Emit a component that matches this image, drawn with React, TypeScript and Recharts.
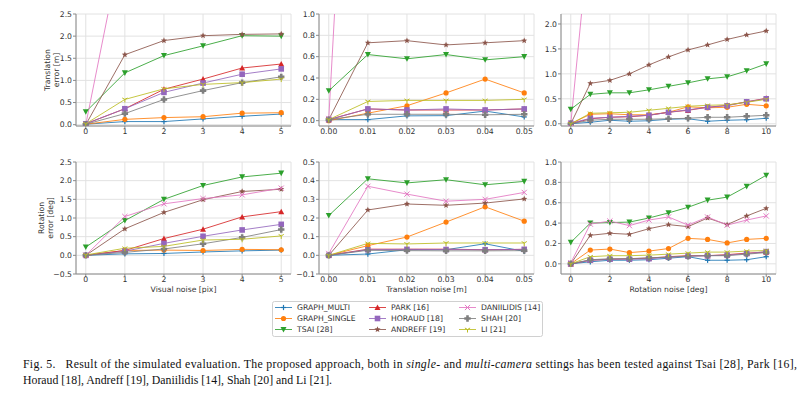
import React from 'react';
import { LineChart, Line, XAxis, YAxis, CartesianGrid } from 'recharts';

// series order used by every value table below
const seriesNames = ['GRAPH_MULTI', 'GRAPH_SINGLE', 'TSAI [28]', 'PARK [16]', 'HORAUD [18]', 'ANDREFF [19]', 'DANIILIDIS [14]', 'SHAH [20]', 'LI [21]'];
const seriesColors = ['#1f77b4', '#ff7f0e', '#2ca02c', '#d62728', '#9467bd', '#8c564b', '#e377c2', '#7f7f7f', '#bcbd22'];
const seriesMarkers = ['plus', 'circle', 'triDown', 'triUp', 'square', 'star', 'x', 'fplus', 'tri'];

const visualNoise = [0, 1, 2, 3, 4, 5];
const translationNoise = [0, 0.01, 0.02, 0.03, 0.04, 0.05];
const rotationNoise = [0, 1, 2, 3, 4, 5, 6, 7, 8, 9, 10];

const transErrVisual = [
  [0.01, 0.07, 0.07, 0.13, 0.19, 0.24],
  [0.01, 0.12, 0.16, 0.18, 0.26, 0.27],
  [0.29, 1.17, 1.56, 1.78, 2.01, 2.0],
  [0.02, 0.36, 0.8, 1.03, 1.28, 1.37],
  [0.02, 0.36, 0.73, 0.94, 1.14, 1.26],
  [0.0, 1.58, 1.9, 2.01, 2.04, 2.05],
  [0.0, 4.4, 6.5, 8.0, 9.0, 10.0],
  [0.01, 0.25, 0.57, 0.77, 0.95, 1.08],
  [0.02, 0.57, 0.81, 0.91, 0.95, 1.03],
];

const transErrTranslation = [
  [0.01, 0.01, 0.045, 0.047, 0.09, 0.035],
  [0.0, 0.07, 0.14, 0.26, 0.39, 0.26],
  [0.28, 0.62, 0.58, 0.62, 0.57, 0.6],
  [0.01, 0.11, 0.1, 0.1, 0.1, 0.11],
  [0.01, 0.11, 0.1, 0.11, 0.1, 0.11],
  [0.01, 0.73, 0.75, 0.71, 0.73, 0.75],
  [0.02, 6.7, 7.0, 7.2, 7.5, 7.8],
  [0.01, 0.06, 0.06, 0.06, 0.055, 0.06],
  [0.01, 0.18, 0.19, 0.19, 0.19, 0.2],
];

const transErrRotation = [
  [0.0, 0.03, 0.07, 0.05, 0.06, 0.09, 0.1, 0.05, 0.07, 0.08, 0.11],
  [0.0, 0.19, 0.2, 0.18, 0.18, 0.23, 0.34, 0.32, 0.33, 0.39, 0.36],
  [0.29, 0.59, 0.62, 0.62, 0.68, 0.75, 0.82, 0.9, 0.94, 1.06, 1.2],
  [0.0, 0.1, 0.13, 0.14, 0.17, 0.23, 0.27, 0.33, 0.37, 0.44, 0.51],
  [0.01, 0.11, 0.13, 0.15, 0.17, 0.23, 0.28, 0.33, 0.36, 0.44, 0.5],
  [0.0, 0.81, 0.87, 1.0, 1.18, 1.34, 1.48, 1.58, 1.69, 1.78, 1.86],
  [0.0, 4.0, 5.0, 5.5, 6.0, 6.5, 7.0, 7.5, 8.0, 8.5, 9.0],
  [0.0, 0.07, 0.09, 0.09, 0.09, 0.1, 0.11, 0.13, 0.13, 0.15, 0.17],
  [0.0, 0.21, 0.22, 0.23, 0.27, 0.31, 0.35, 0.37, 0.38, 0.43, 0.49],
];

const rotErrVisual = [
  [0.0, 0.04, 0.05, 0.09, 0.12, 0.14],
  [0.0, 0.13, 0.14, 0.13, 0.16, 0.15],
  [0.22, 0.93, 1.5, 1.87, 2.1, 2.2],
  [0.0, 0.13, 0.45, 0.7, 1.03, 1.17],
  [0.0, 0.11, 0.32, 0.51, 0.68, 0.83],
  [0.0, 0.71, 1.15, 1.49, 1.71, 1.77],
  [0.0, 1.04, 1.38, 1.52, 1.62, 1.8],
  [0.0, 0.08, 0.17, 0.31, 0.48, 0.69],
  [0.01, 0.19, 0.24, 0.41, 0.43, 0.52],
];

const rotErrTranslation = [
  [0.0, 0.007, 0.03, 0.03, 0.062, 0.021],
  [0.0, 0.052, 0.098, 0.178, 0.26, 0.183],
  [0.213, 0.41, 0.388, 0.405, 0.378, 0.396],
  [0.0, 0.033, 0.033, 0.033, 0.03, 0.032],
  [0.0, 0.03, 0.032, 0.031, 0.03, 0.032],
  [0.0, 0.243, 0.275, 0.268, 0.28, 0.302],
  [0.01, 0.37, 0.328, 0.29, 0.3, 0.337],
  [0.0, 0.027, 0.025, 0.024, 0.024, 0.025],
  [0.0, 0.064, 0.061, 0.066, 0.066, 0.066],
];

const rotErrRotation = [
  [0.0, 0.02, 0.035, 0.035, 0.04, 0.055, 0.07, 0.035, 0.035, 0.04, 0.07],
  [0.0, 0.135, 0.145, 0.11, 0.125, 0.15, 0.25, 0.24, 0.205, 0.24, 0.25],
  [0.21, 0.4, 0.405, 0.41, 0.45, 0.5, 0.555, 0.625, 0.655, 0.76, 0.87],
  [0.0, 0.035, 0.045, 0.05, 0.055, 0.07, 0.08, 0.08, 0.09, 0.105, 0.115],
  [0.0, 0.035, 0.045, 0.045, 0.05, 0.065, 0.075, 0.08, 0.085, 0.1, 0.12],
  [0.0, 0.28, 0.3, 0.29, 0.345, 0.385, 0.365, 0.45, 0.385, 0.47, 0.545],
  [0.01, 0.39, 0.42, 0.375, 0.43, 0.46, 0.38, 0.46, 0.38, 0.43, 0.47],
  [0.0, 0.04, 0.05, 0.05, 0.06, 0.065, 0.075, 0.08, 0.08, 0.095, 0.11],
  [0.0, 0.07, 0.08, 0.08, 0.085, 0.095, 0.105, 0.115, 0.115, 0.125, 0.13],
];

const ticks5 = [0, 1, 2, 3, 4, 5];
const ticksTrans = [0, 0.01, 0.02, 0.03, 0.04, 0.05];
const ticksRot = [0, 2, 4, 6, 8, 10];

const FONT = '"DejaVu Sans", sans-serif';
const TXT = '#333';
const EDGE = '#8a8a8a';
const FS = 7.7;

const YW = 34;
const MT = 6;
const MR = 6;
const XH = 14;
const PW = 215;
const PH = 112;

const Marker = ({ cx, cy, shape, color }: any) => {
  if (cx == null || cy == null || isNaN(cy)) return null;
  const s = 2.6;
  switch (shape) {
    case 'plus':
      return (
        <g stroke={color} strokeWidth={1.2}>
          <line x1={cx - s} y1={cy} x2={cx + s} y2={cy} />
          <line x1={cx} y1={cy - s} x2={cx} y2={cy + s} />
        </g>
      );
    case 'circle':
      return <circle cx={cx} cy={cy} r={2.6} fill={color} />;
    case 'triDown':
      return <polygon points={`${cx - 3},${cy - 2.6} ${cx + 3},${cy - 2.6} ${cx},${cy + 3}`} fill={color} />;
    case 'triUp':
      return <polygon points={`${cx - 3},${cy + 2.6} ${cx + 3},${cy + 2.6} ${cx},${cy - 3}`} fill={color} />;
    case 'square':
      return <rect x={cx - 2.8} y={cy - 2.8} width={5.6} height={5.6} fill={color} />;
    case 'star': {
      const pts: string[] = [];
      for (let i = 0; i < 10; i++) {
        const r = i % 2 === 0 ? 3.2 : 1.4;
        const a = -Math.PI / 2 + (i * Math.PI) / 5;
        pts.push(`${cx + r * Math.cos(a)},${cy + r * Math.sin(a)}`);
      }
      return <polygon points={pts.join(' ')} fill={color} />;
    }
    case 'x':
      return (
        <g stroke={color} strokeWidth={1}>
          <line x1={cx - s} y1={cy - s} x2={cx + s} y2={cy + s} />
          <line x1={cx - s} y1={cy + s} x2={cx + s} y2={cy - s} />
        </g>
      );
    case 'fplus': {
      const a = 3.2;
      const b = 1.3;
      const p = [
        [-b, -a], [b, -a], [b, -b], [a, -b], [a, b], [b, b], [b, a], [-b, a], [-b, b], [-a, b], [-a, -b], [-b, -b],
      ];
      return <polygon points={p.map(([x, y]) => `${cx + x},${cy + y}`).join(' ')} fill={color} />;
    }
    case 'tri':
      return (
        <g stroke={color} strokeWidth={1}>
          <line x1={cx} y1={cy} x2={cx} y2={cy + 3} />
          <line x1={cx} y1={cy} x2={cx - 2.6} y2={cy - 1.5} />
          <line x1={cx} y1={cy} x2={cx + 2.6} y2={cy - 1.5} />
        </g>
      );
    default:
      return null;
  }
};

const fmtY = (v: number) => v.toFixed(1).replace('-', '\u2212');

const Panel = ({ left, top, xs, rows, xDomain, xTicks, xFmt, yDomain, yTicks }: any) => {
  const data = xs.map((x: number, i: number) => {
    const r: any = { x };
    rows.forEach((vals: number[], k: number) => {
      r['s' + k] = vals[i];
    });
    return r;
  });
  return (
    <div style={{ position: 'absolute', left: left - YW, top: top - MT }}>
      <LineChart width={YW + PW + MR} height={MT + PH + XH} data={data} margin={{ top: MT, right: MR, bottom: 0, left: 0 }}>
        <CartesianGrid stroke="#e2e2e2" strokeWidth={1} />
        <XAxis
          dataKey="x"
          type="number"
          domain={xDomain}
          ticks={xTicks}
          interval={0}
          tickFormatter={xFmt}
          allowDataOverflow
          height={XH}
          tickSize={3}
          tickMargin={0}
          tick={{ fill: TXT, fontSize: FS }}
          tickLine={{ stroke: EDGE }}
          axisLine={{ stroke: EDGE }}
        />
        <XAxis xAxisId="top" orientation="top" type="number" domain={xDomain} height={0} tick={false} tickLine={false} axisLine={{ stroke: EDGE }} />
        <YAxis
          type="number"
          domain={yDomain}
          ticks={yTicks}
          interval={0}
          tickFormatter={fmtY}
          allowDataOverflow
          width={YW}
          tickSize={3}
          tickMargin={1}
          tick={{ fill: TXT, fontSize: FS }}
          tickLine={{ stroke: EDGE }}
          axisLine={{ stroke: EDGE }}
        />
        <YAxis yAxisId="right" orientation="right" type="number" domain={yDomain} width={0} tick={false} tickLine={false} axisLine={{ stroke: EDGE }} />
        {seriesNames.map((name, k) => (
          <Line
            key={name}
            dataKey={'s' + k}
            name={name}
            type="linear"
            stroke={seriesColors[k]}
            strokeWidth={1}
            strokeOpacity={0.85}
            isAnimationActive={false}
            dot={(p: any) => <Marker key={'d' + p.index} cx={p.cx} cy={p.cy} shape={seriesMarkers[k]} color={seriesColors[k]} />}
            activeDot={false}
          />
        ))}
      </LineChart>
    </div>
  );
};

const legendCols = [275, 369, 459];
const legendRows = [307.5, 318.5, 329.5];

const App = () => {
  const row1 = 14;
  const row2 = 162;
  const colL = [76, 319, 561];
  const fmt2 = (v: number) => v.toFixed(2);
  return (
    <div style={{ position: 'absolute', left: 0, top: 0, width: 812, height: 397, background: '#fff', fontFamily: FONT, overflow: 'hidden' }}>
      <Panel left={colL[0]} top={row1} xs={visualNoise} rows={transErrVisual} xDomain={[-0.25, 5.25]} xTicks={ticks5} yDomain={[-0.03, 2.5]} yTicks={[0, 0.5, 1, 1.5, 2, 2.5]} />
      <Panel left={colL[1]} top={row1} xs={translationNoise} rows={transErrTranslation} xDomain={[-0.0025, 0.0525]} xTicks={ticksTrans} xFmt={fmt2} yDomain={[-0.05, 1.0]} yTicks={[0, 0.2, 0.4, 0.6, 0.8, 1.0]} />
      <Panel left={colL[2]} top={row1} xs={rotationNoise} rows={transErrRotation} xDomain={[-0.5, 10.5]} xTicks={ticksRot} yDomain={[-0.045, 2.2]} yTicks={[0, 0.5, 1, 1.5, 2]} />
      <Panel left={colL[0]} top={row2} xs={visualNoise} rows={rotErrVisual} xDomain={[-0.25, 5.25]} xTicks={ticks5} yDomain={[-0.5, 2.5]} yTicks={[-0.5, 0, 0.5, 1, 1.5, 2, 2.5]} />
      <Panel left={colL[1]} top={row2} xs={translationNoise} rows={rotErrTranslation} xDomain={[-0.0025, 0.0525]} xTicks={ticksTrans} xFmt={fmt2} yDomain={[-0.1, 0.5]} yTicks={[-0.1, 0, 0.1, 0.2, 0.3, 0.4, 0.5]} />
      <Panel left={colL[2]} top={row2} xs={rotationNoise} rows={rotErrRotation} xDomain={[-0.5, 10.5]} xTicks={ticksRot} yDomain={[-0.1, 1.0]} yTicks={[0, 0.2, 0.4, 0.6, 0.8, 1.0]} />

      <svg width={812} height={397} style={{ position: 'absolute', left: 0, top: 0, pointerEvents: 'none' }}>
        <g fill={TXT} fontSize={FS} textAnchor="middle" dominantBaseline="central">
          <text x={47} y={70} transform="rotate(-90 47 70)">Translation</text>
          <text x={56} y={70} transform="rotate(-90 56 70)">error [m]</text>
          <text x={41.5} y={218} transform="rotate(-90 41.5 218)">Rotation</text>
          <text x={50} y={218} transform="rotate(-90 50 218)">error [deg]</text>
          <text x={183.5} y={289}>Visual noise [pix]</text>
          <text x={426.5} y={289}>Translation noise [m]</text>
          <text x={668.5} y={289}>Rotation noise [deg]</text>
        </g>

        <rect x={272.5} y={301.5} width={270} height={35} rx={2} fill="#fff" stroke="#d0d0d0" />
        {seriesNames.map((name, k) => {
          const col = Math.floor(k / 3);
          const row = k % 3;
          const x = legendCols[col];
          const y = legendRows[row];
          return (
            <g key={name}>
              <line x1={x} y1={y} x2={x + 17} y2={y} stroke={seriesColors[k]} strokeWidth={1} strokeOpacity={0.85} />
              <Marker cx={x + 8.5} cy={y} shape={seriesMarkers[k]} color={seriesColors[k]} />
              <text x={x + 22} y={y} fill={TXT} fontSize={FS} dominantBaseline="central">{name}</text>
            </g>
          );
        })}

        <g style={{ fontFamily: '"Liberation Serif", "Times New Roman", serif' }} fontSize={11.8} fill="#111">
          <text x={23} y={368} textLength={774} lengthAdjust="spacing">
            Fig. 5.{'\u00a0\u00a0\u00a0'}Result of the simulated evaluation. The proposed approach, both in <tspan fontStyle="italic">single-</tspan> and <tspan fontStyle="italic">multi-camera</tspan> settings has been tested against Tsai [28], Park [16],
          </text>
          <text x={23} y={384}>Horaud [18], Andreff [19], Daniilidis [14], Shah [20] and Li [21].</text>
        </g>
      </svg>
    </div>
  );
};

export default App;
